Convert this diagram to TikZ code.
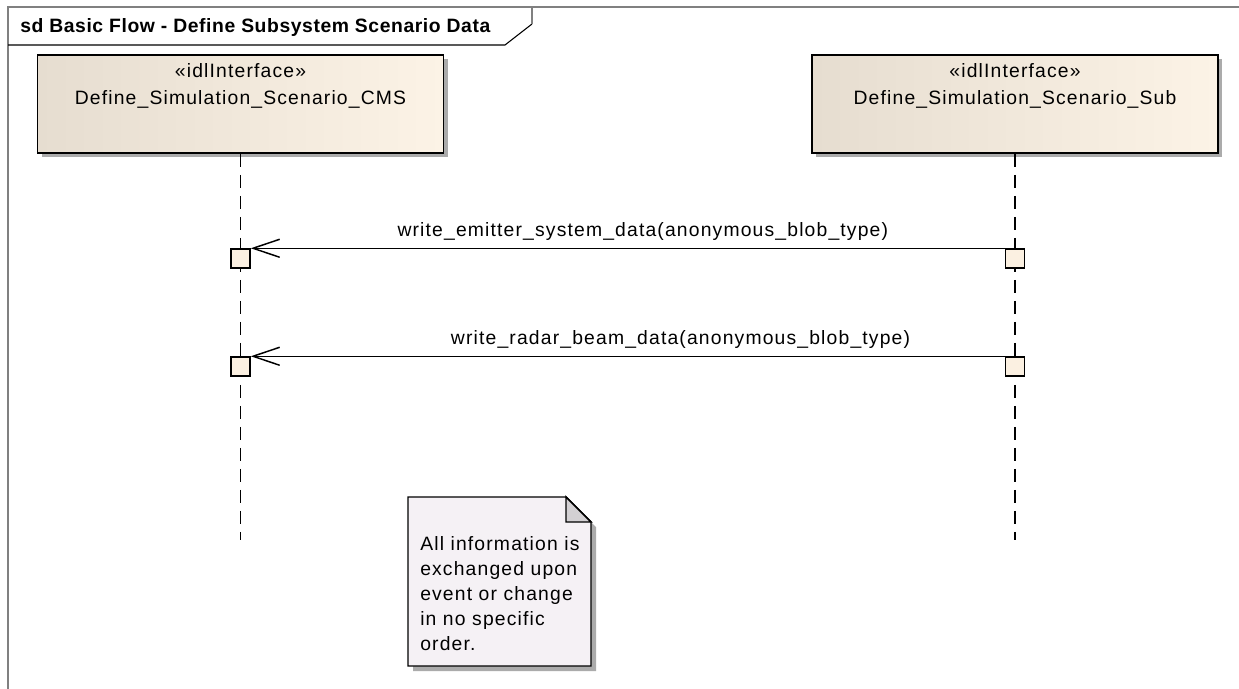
\documentclass[tikz,border=0pt]{standalone}
\usepackage{fontspec}
\setmainfont{Liberation Sans}[LetterSpace=6,BoldFeatures={LetterSpace=3}]
\usetikzlibrary{arrows.meta,positioning,shadows}
\definecolor{boxleft}{HTML}{E6DDD0}
\definecolor{boxright}{HTML}{FCF3E6}
\definecolor{actfill}{HTML}{FBF0E1}
\definecolor{notefill}{HTML}{F5F1F5}
\definecolor{foldfill}{HTML}{D3D0D3}
\definecolor{framegray}{HTML}{808080}
\definecolor{shadowgray}{HTML}{ABABAB}

\begin{document}
\begin{tikzpicture}[x=0.75pt,y=-0.75pt,line join=miter,
  font=\fontsize{14.5}{20.25}\selectfont,
  frame/.style={draw=framegray,line width=1.5pt},
  tab/.style={draw=black,line width=0.8pt},
  lifebox/.style={draw=black,line width=1.3pt,left color=boxleft,right color=boxright,
    minimum width=304.5pt,minimum height=73.5pt,inner sep=0pt,
    drop shadow={shadow xshift=3pt,shadow yshift=-3pt,fill=shadowgray,opacity=1}},
  boxtext/.style={inner sep=0pt,text height=10.4pt,text depth=3.1pt},
  lifeline/.style={draw=black,line width=1.1pt,dash pattern=on 9.75pt off 6pt},
  actbox/.style={draw=black,line width=1.1pt,fill=actfill,minimum size=14.25pt,inner sep=0pt},
  msg/.style={draw=black,line width=1.1pt,-{Straight Barb[length=20pt,width=13.5pt,line width=1.1pt]}},
  msglabel/.style={above=5pt,inner sep=0pt},
  notebox/.style={draw=black,line width=1.1pt,fill=notefill,
    drop shadow={shadow xshift=3.75pt,shadow yshift=-3.75pt,fill=shadowgray,opacity=1}},
  foldbox/.style={draw=black,line width=1.1pt,fill=foldfill},
  notetext/.style={inner sep=0pt,align=left,font=\fontsize{14.5}{18.75}\selectfont}]
  \useasboundingbox (0,0) rectangle (1239,689);
  % diagram frame and title tab
  \draw[frame] (8,689) -- (8,7) -- (1239,7);
  \draw[tab] (8,45) -- (505,45) -- (532,24);
  \draw[frame] (532,24) -- (532,7);
  \node[anchor=west,inner sep=0pt,font=\fontsize{14.5}{16}\bfseries\selectfont] (title) at (20,27)
    {sd Basic Flow - Define Subsystem Scenario Data};

  % lifeline heads
  \node[lifebox] (cms) at (240.5,104) {};
  \node[boxtext] (cmsstereo) at (240.5,73) {«idlInterface»};
  \node[boxtext] (cmsname) at (240.5,100) {Define\_Simulation\_Scenario\_CMS};
  \node[lifebox] (sub) at (1015,104) {};
  \node[boxtext] (substereo) at (1015,73) {«idlInterface»};
  \node[boxtext] (subname) at (1015,100) {Define\_Simulation\_Scenario\_Sub};

  % lifelines
  \coordinate (cmsend) at (240.5,540);
  \coordinate (subend) at (1015,540);
  \draw[lifeline] (cms.south) -- (cmsend);
  \draw[lifeline] (sub.south) -- (subend);

  % activations
  \node[actbox] (cmsact1) at (240.5,258.5) {};
  \node[actbox] (subact1) at (1015,258.5) {};
  \node[actbox] (cmsact2) at (240.5,366.5) {};
  \node[actbox] (subact2) at (1015,366.5) {};

  % messages
  \draw[msg] (subact1.north west) -- node[msglabel,pos=0.48] (msg1)
    {write\_emitter\_system\_data(anonymous\_blob\_type)} (cmsact1.north east);
  \draw[msg] (subact2.north west) -- node[msglabel,pos=0.43] (msg2)
    {write\_radar\_beam\_data(anonymous\_blob\_type)} (cmsact2.north east);

  % note
  \filldraw[notebox] (408,497) -- (566,497) -- (591,522) -- (591,666) -- (408,666) -- cycle;
  \filldraw[foldbox] (566,497) -- (566,522) -- (591,522) -- cycle;
  \node[notetext,anchor=north west] (note) at (420,536)
    {All information is\\exchanged upon\\event or change\\in no specific\\order.};
\end{tikzpicture}
\end{document}
